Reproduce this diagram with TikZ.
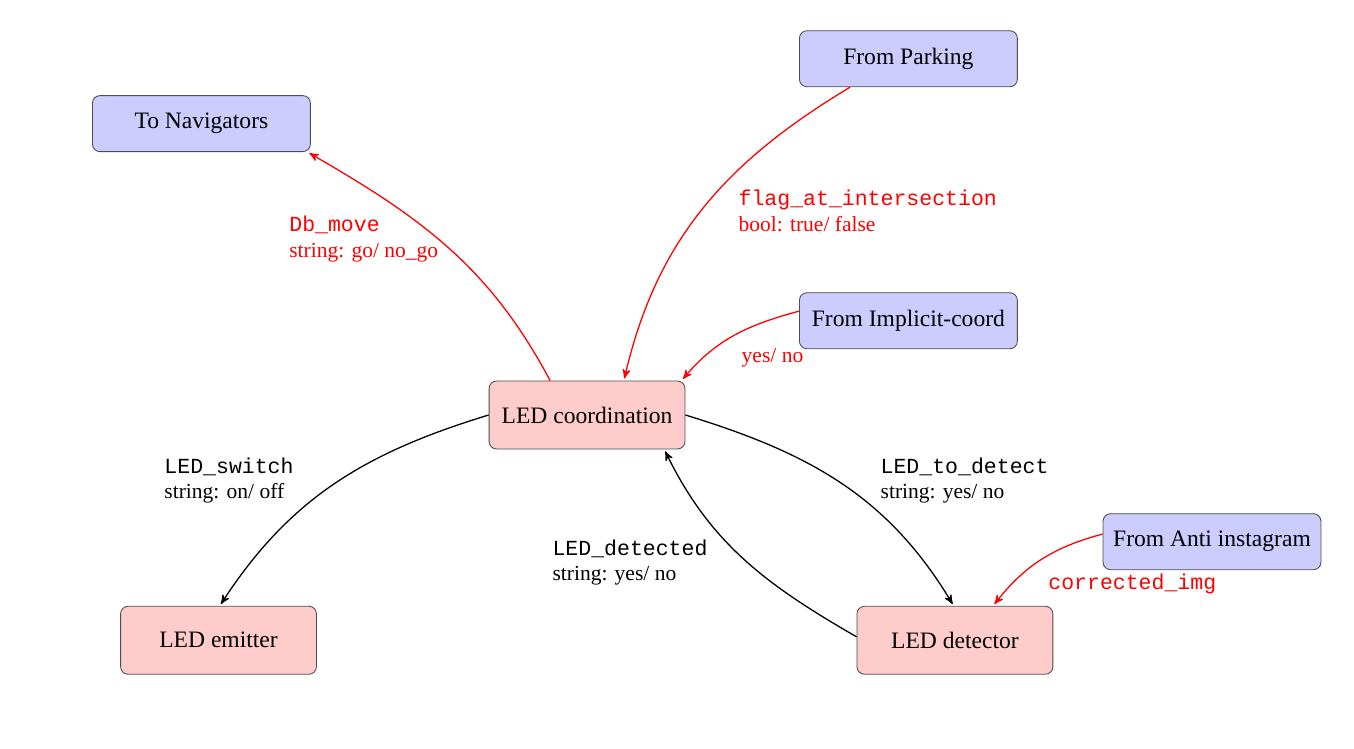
\documentclass[tikz,border=0pt]{standalone}
\usepackage{fontspec}
\setmainfont{Liberation Serif}
\setmonofont{Liberation Mono}
\usetikzlibrary{arrows}
\tikzset{
    rosbox/.style={rectangle, rounded corners=3.5pt, draw=black!70, fill=red!20, minimum width=3.2cm, minimum height=1.11cm, font=\fontsize{10.95}{13.6}\selectfont},
    extbox/.style={rectangle, rounded corners=3.5pt, draw=black!70, fill=blue!20, minimum width=3.56cm, minimum height=0.915cm, font=\fontsize{10.95}{13.6}\selectfont},
    msglbl/.style={anchor=west, inner sep=0pt, align=left},
    pub/.style={->, >=stealth', shorten >=1pt, semithick},
    ext/.style={pub, red}
}

\begin{document}
\begin{tikzpicture}
        \useasboundingbox (0,0) rectangle (22.12,12.22);
        % nodes
        \node[rosbox] (coord) at (9.59,5.44) {LED coordination};
        \node[rosbox] (emit) at (3.57,1.76) {LED emitter};
        \node[rosbox] (det) at (15.60,1.76) {LED detector};
        % outside
        \node[extbox] (nav) at (3.29,10.20) {To Navigators};
        \node[extbox] (park) at (14.84,11.26) {From Parking};
        \node[extbox] (impl) at (14.84,6.98) {From Implicit-coord};
        \node[extbox] (anti) at (19.80,3.37) {From Anti instagram};

        % topics in and out
        \draw[ext] (coord.137) to[out=118,in=-30] (nav.-15);
        \draw[ext] (park.206) to[out=211,in=77] (coord.43);
        \draw[ext] (impl.175) to[out=195,in=50] (coord.20);
        \draw[ext] (anti.176) to[out=195,in=52] (det.42);
        % topics between
        \draw[pub] (coord.west) to[out=197,in=57] (emit.88);
        \draw[pub] (coord.east) to[out=-17,in=121] (det.92);
        \draw[pub] (det.178) to[out=150,in=-64] (coord.-24);

        % labels
        \node[msglbl, red] (lbmove) at (4.72,8.31) {\texttt{Db\_move}\\string: go/ no\_go};
        \node[msglbl, red] (lbflag) at (12.06,8.77) {\texttt{flag\_at\_intersection}\\bool: true/ false};
        \node[msglbl, red] (lbyes) at (12.11,6.37) {yes/ no};
        \node[msglbl, red] (lbcorr) at (17.12,2.68) {\texttt{corrected\_img}};
        \node[msglbl] (lbswitch) at (2.68,4.37) {\texttt{LED\_switch}\\string: on/ off};
        \node[msglbl] (lbtodet) at (14.38,4.37) {\texttt{LED\_to\_detect}\\string: yes/ no};
        \node[msglbl] (lbdet) at (9.02,3.03) {\texttt{LED\_detected}\\string: yes/ no};
\end{tikzpicture}
\end{document}
